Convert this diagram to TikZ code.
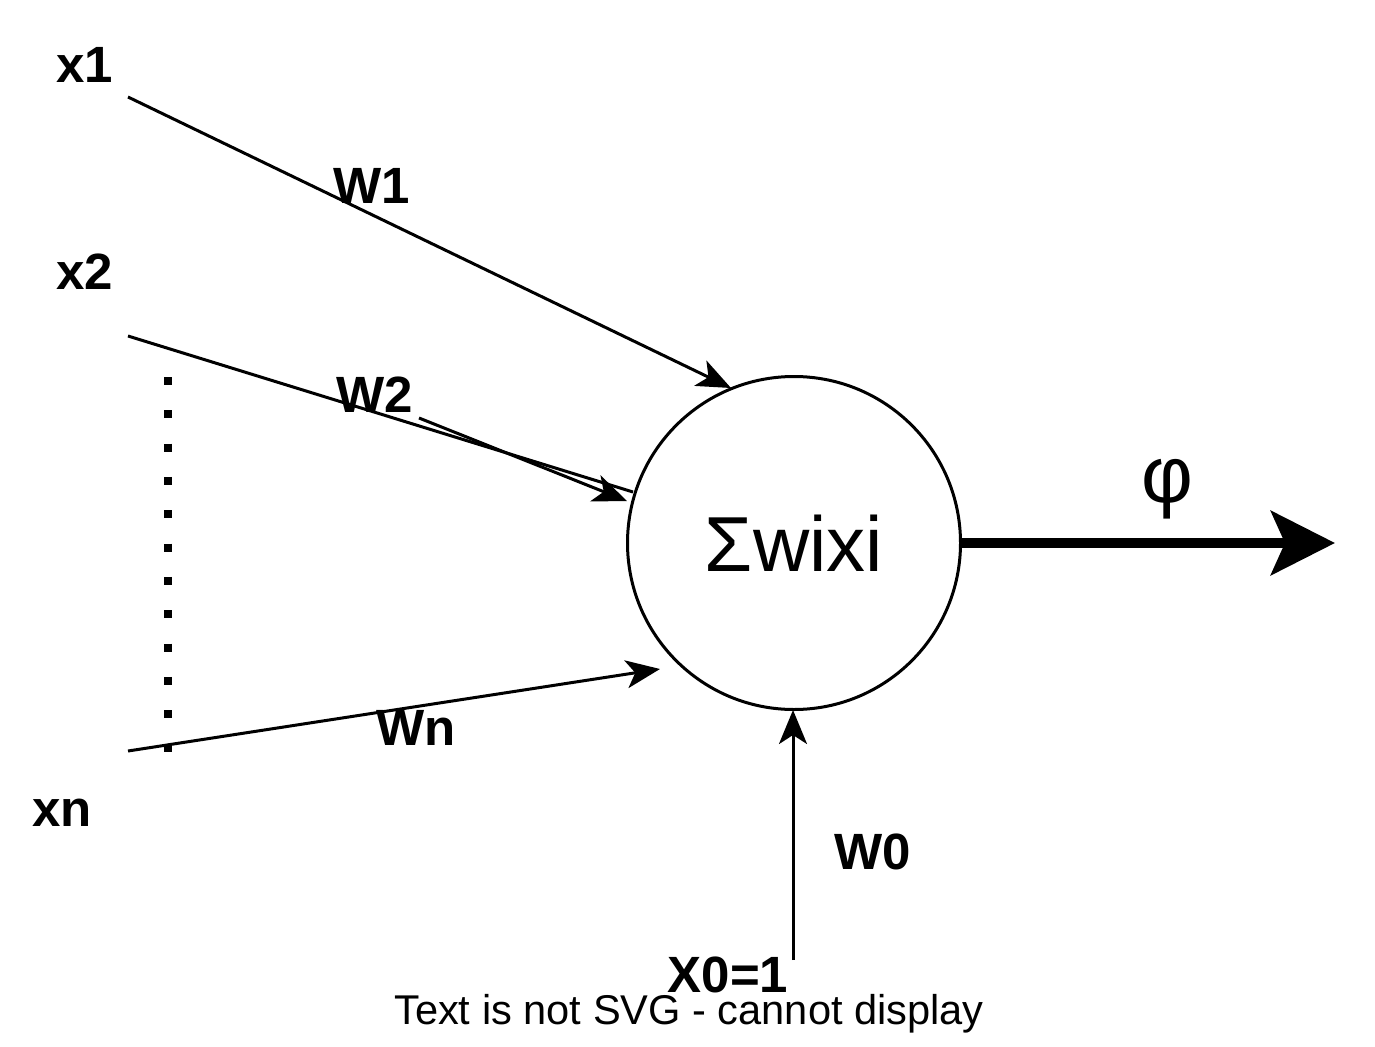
\documentclass[tikz,border=0pt]{standalone}
\usepackage{fontspec}
\setmainfont{Liberation Sans}
\usetikzlibrary{arrows.meta}
\begin{document}
\begin{tikzpicture}[x=1pt,y=-1pt,
  lbl/.style={font=\fontsize{51}{60}\selectfont\bfseries, inner sep=0pt},
  conn/.style={line width=3pt, -{Stealth[length=34pt,width=28pt,inset=9pt]}},
  plain/.style={line width=3pt},
  outarrow/.style={line width=10pt, -{Stealth[length=64pt,width=64pt,inset=14pt]}},
  dotline/.style={line width=8pt, dash pattern=on 8pt off 25.33pt},
  neuron/.style={circle, draw, line width=3pt, minimum size=333pt, inner sep=0pt, font=\fontsize{78}{90}\selectfont}]
\useasboundingbox (0,0) rectangle (1375,1046);
\fill[white] (0,0) rectangle (1375,1046);

\node[neuron] (sum) at (794,543) {Σwixi};

\node[lbl] (x1) at (85,65) {x1};
\node[lbl] (x2) at (85,272) {x2};
\node[lbl] (xn) at (62,813) {xn};
\node[lbl] (w1) at (372,186) {W1};
\node[lbl] (w2) at (375,395) {W2};
\node[lbl] (wn) at (416,728) {Wn};
\node[lbl] (w0) at (873,852) {W0};
\node[lbl] (x0) at (728,975) {X0=1};
\node[inner sep=0pt, font=\fontsize{80}{90}\selectfont] (phi) at (1167,489) {φ};
\node[inner sep=0pt, font=\fontsize{41.6}{48}\selectfont] (msg) at (689,1014) {Text is not SVG - cannot display};

\coordinate (s1) at (128,97);
\coordinate (e1) at (731,388);
\coordinate (s2) at (128,336);
\coordinate (e2) at (633,492);
\coordinate (s2b) at (419,418);
\coordinate (e2b) at (627,501);
\coordinate (sn) at (128,751);
\coordinate (en) at (660,669);
\coordinate (s0) at (793,960);
\coordinate (e0) at (793,710);
\coordinate (so) at (961,543);
\coordinate (eo) at (1335,543);
\coordinate (d1) at (168,377);
\coordinate (d2) at (168,752);

\draw[conn] (s1) -- (e1);
\draw[plain] (s2) -- (e2);
\draw[conn] (s2b) -- (e2b);
\draw[conn] (sn) -- (en);
\draw[conn] (s0) -- (e0);
\draw[outarrow] (so) -- (eo);
\draw[dotline] (d1) -- (d2);
\end{tikzpicture}
\end{document}
